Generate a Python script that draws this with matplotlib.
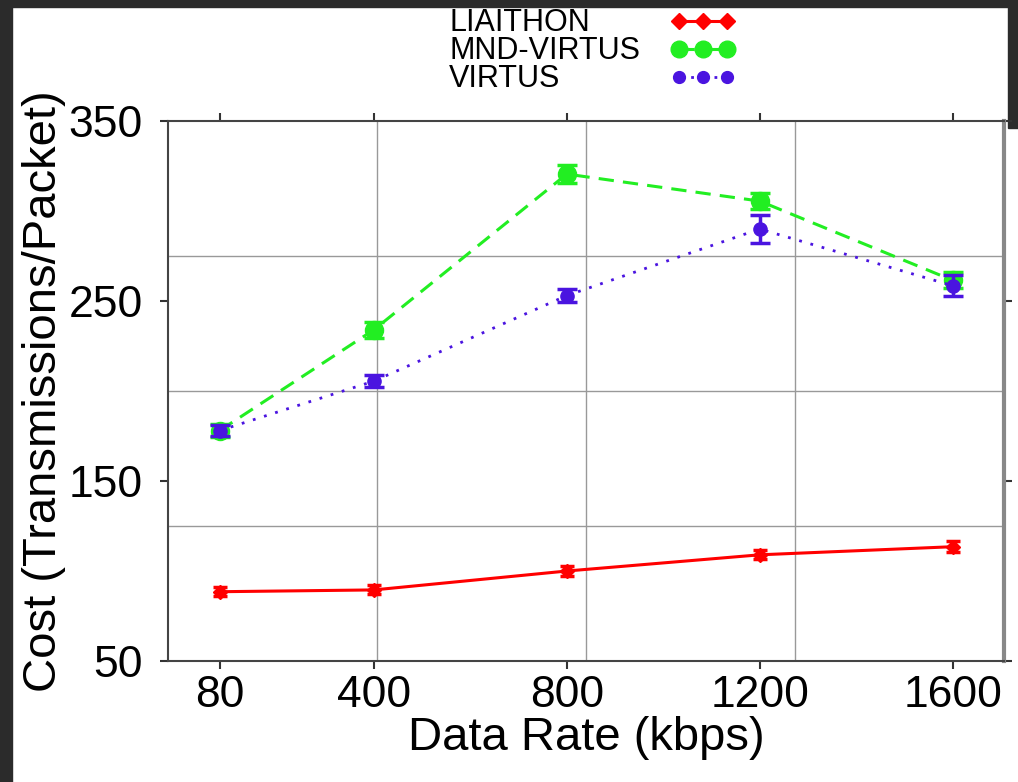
import matplotlib
matplotlib.use("Agg")
import matplotlib.pyplot as plt
from matplotlib.patches import Rectangle
from matplotlib.lines import Line2D
import numpy as np

# data
rates = [80, 400, 800, 1200, 1600]
liaithon = [88.5, 89.5, 100.0, 109.0, 113.5]
liaithon_err = [2.5, 2.5, 3.0, 2.5, 3.0]
mnd_virtus = [178.0, 234.0, 320.5, 305.5, 261.5]
mnd_virtus_err = [3.5, 4.5, 5.0, 4.5, 4.5]
virtus = [178.0, 205.5, 253.0, 290.0, 258.5]
virtus_err = [3.0, 3.5, 3.5, 8.0, 6.0]

xticks = [80, 400, 800, 1200, 1600]
yticks = [50, 150, 250, 350]

plt.rcParams['font.family'] = ['Liberation Sans', 'DejaVu Sans']

W, H = 1018, 782
fig = plt.figure(figsize=(W / 100, H / 100), dpi=100, facecolor='white')
ax = fig.add_axes([0.165, 0.1547, 0.821, 0.6906])

# dark viewer border round the screenshot
dark = '#2b2b2b'
fig.patches.append(Rectangle((0, 1 - 7 / H), 1, 7 / H, transform=fig.transFigure,
                             color=dark, zorder=-1))
fig.patches.append(Rectangle((0, 0), 12 / W, 1, transform=fig.transFigure,
                             color=dark, zorder=-1))
fig.patches.append(Rectangle((1 - 10 / W, 1 - 128 / H), 10 / W, 128 / H,
                             transform=fig.transFigure, color=dark, zorder=-1))

styles = {
    'LIAITHON': dict(color='#ff0000', ls='-', lw=2.2, marker='D', ms=7),
    'MND-VIRTUS': dict(color='#22ee22', ls=(0, (5, 3)), lw=2.2, marker='o', ms=13),
    'VIRTUS': dict(color='#4a14e0', ls=(0, (1, 3.2)), lw=2.0, marker='o', ms=9.5),
}

ax.errorbar(rates, liaithon, yerr=liaithon_err, capsize=5, capthick=2.5,
            elinewidth=2.5, zorder=3, **styles['LIAITHON'])
ax.errorbar(rates, mnd_virtus, yerr=mnd_virtus_err, capsize=7, capthick=2.5,
            elinewidth=2.5, zorder=4, **styles['MND-VIRTUS'])
ax.errorbar(rates, virtus, yerr=virtus_err, capsize=7, capthick=2.5,
            elinewidth=2.5, zorder=5, **styles['VIRTUS'])

ax.set_xlim(-27, 1706)
ax.set_ylim(50, 350)
ax.set_xticks(xticks)
ax.set_yticks(yticks)

# grid splits the box in quarters, not at the ticks
xl, yl = ax.get_xlim(), ax.get_ylim()
ax.set_xticks(np.linspace(xl[0], xl[1], 5)[1:-1], minor=True)
ax.set_yticks(np.linspace(yl[0], yl[1], 5)[1:-1], minor=True)
ax.grid(which='minor', color='#999999', lw=1.0)
ax.grid(which='major', visible=False)
ax.tick_params(which='minor', length=0)

ax.tick_params(which='major', direction='out', length=6, width=1.5, color='#333333',
               top=True, right=True, labelsize=32)
ax.tick_params(axis='y', pad=12)
ax.tick_params(axis='x', pad=4)

for side in ['top', 'bottom', 'left']:
    ax.spines[side].set_color('#444444')
    ax.spines[side].set_linewidth(1.5)
ax.spines['right'].set_color('#888888')
ax.spines['right'].set_linewidth(3)

ax.set_xlabel('Data Rate (kbps)', fontsize=34, labelpad=0)
ax.set_ylabel('Cost (Transmissions/Packet)', fontsize=34, labelpad=2)

# legend drawn by hand: labels left-aligned, three markers to the right
row_y = [21, 49, 77]
legend_ms = {'LIAITHON': 8, 'MND-VIRTUS': 12, 'VIRTUS': 8.5}
for name, yy in zip(styles, row_y):
    fy = 1 - yy / H
    fig.text(449 / W, 1 - (yy + 10) / H, name, fontsize=22, ha='left', va='baseline')
    st = dict(styles[name], ms=legend_ms[name])
    fig.add_artist(Line2D([679 / W, 703 / W, 727 / W], [fy] * 3,
                          transform=fig.transFigure, **st))

fig.savefig('out.png', dpi=100, facecolor=fig.get_facecolor())
